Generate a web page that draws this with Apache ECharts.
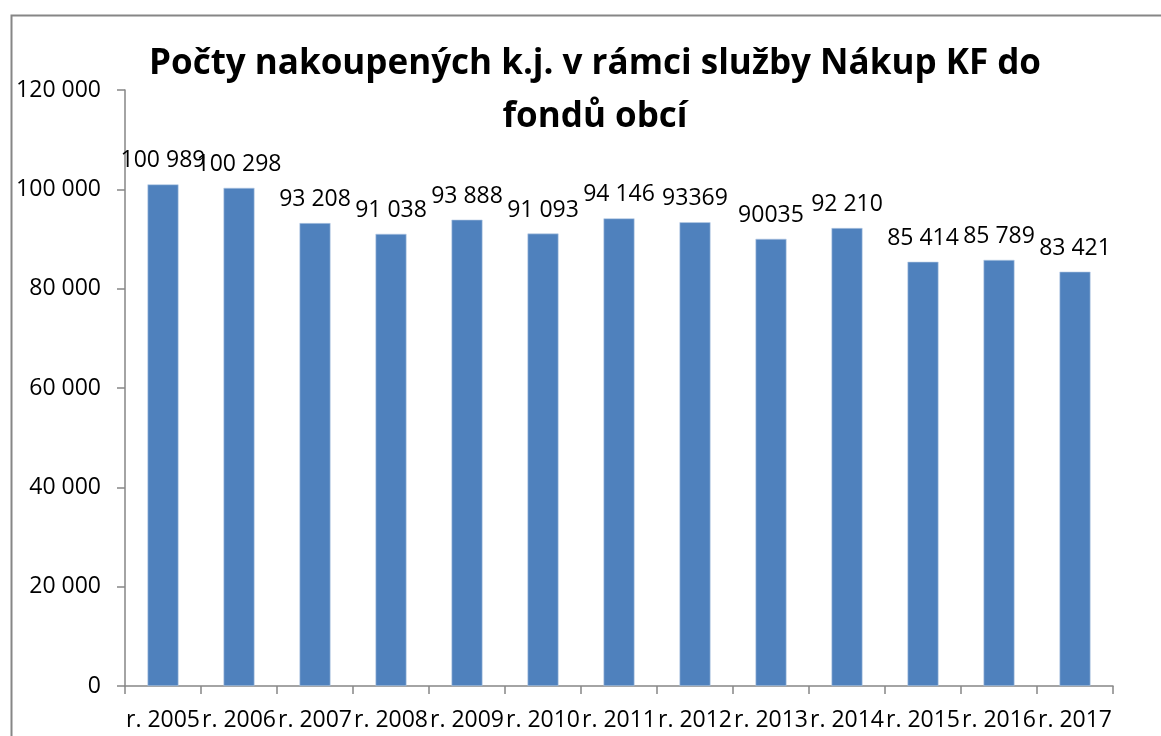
<!DOCTYPE html>
<html>
<head>
<meta charset="utf-8">
<script src="https://cdn.jsdelivr.net/npm/echarts@6/dist/echarts.min.js"></script>
<style>
  html, body { margin: 0; padding: 0; background: #fff; }
  #chart { width: 1161px; height: 736px; }
</style>
</head>
<body>
<div id="chart"></div>
<script>
  var years = ['r. 2005', 'r. 2006', 'r. 2007', 'r. 2008', 'r. 2009', 'r. 2010', 'r. 2011',
    'r. 2012', 'r. 2013', 'r. 2014', 'r. 2015', 'r. 2016', 'r. 2017'];
  var units = [100989, 100298, 93208, 91038, 93888, 91093, 94146, 93369, 90035, 92210, 85414, 85789, 83421];
  // labels as printed in the source (two of them have no thousands space)
  var unitLabels = ['100 989', '100 298', '93 208', '91 038', '93 888', '91 093', '94 146',
    '93369', '90035', '92 210', '85 414', '85 789', '83 421'];

  var font = 'Open Sans';
  var chart = echarts.init(document.getElementById('chart'), null, { renderer: 'canvas' });

  function fmt(v) {
    return String(v).replace(/\B(?=(\d{3})+(?!\d))/g, ' ');
  }

  chart.setOption({
    backgroundColor: '#fff',
    animation: false,
    graphic: [{
      type: 'rect',
      left: 9,
      top: 13,
      shape: { width: 1200, height: 800 },
      style: { fill: 'none', stroke: '#868686', lineWidth: 2 },
      silent: true
    }],
    title: {
      text: 'Počty nakoupených k.j. v rámci služby Nákup KF do\nfondů obcí',
      left: 590,
      top: 33,
      textAlign: 'center',
      textStyle: {
        fontFamily: font,
        fontSize: 35,
        fontWeight: 'bold',
        color: '#000',
        lineHeight: 53
      }
    },
    grid: { left: 125, right: 48, top: 90, bottom: 50 },
    xAxis: {
      type: 'category',
      data: years,
      axisLine: { lineStyle: { color: '#868686', width: 1.5 } },
      axisTick: { show: true, length: 8, interval: 0, lineStyle: { color: '#868686', width: 1.5 } },
      axisLabel: { interval: 0, color: '#000', fontFamily: font, fontSize: 23, margin: 23 }
    },
    yAxis: {
      type: 'value',
      min: 0,
      max: 120000,
      interval: 20000,
      axisLine: { show: true, lineStyle: { color: '#868686', width: 1.5 } },
      axisTick: { show: true, length: 8, lineStyle: { color: '#868686', width: 1.5 } },
      splitLine: { show: false },
      axisLabel: { color: '#000', fontFamily: font, fontSize: 23, margin: 24, formatter: fmt }
    },
    series: [{
      type: 'bar',
      data: units,
      barWidth: 31,
      itemStyle: { color: '#4F81BD', borderColor: '#B9CDE5', borderWidth: 0.6 },
      label: {
        show: true,
        position: 'top',
        distance: 12,
        color: '#000',
        fontFamily: font,
        fontSize: 23,
        formatter: function (p) { return unitLabels[p.dataIndex]; }
      }
    }]
  });
</script>
</body>
</html>
